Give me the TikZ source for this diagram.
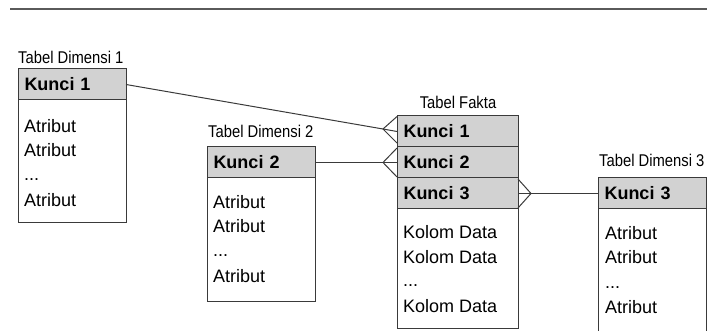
\documentclass[tikz,border=0pt]{standalone}
\usepackage{fontspec}
\setmainfont{Liberation Sans}
\newfontfamily\capfont[FakeStretch=0.87]{Liberation Sans}
\usetikzlibrary{calc}
\definecolor{linec}{HTML}{3A3A3A}
\definecolor{hdrc}{HTML}{D2D2D2}
\definecolor{rulec}{HTML}{5A5A5A}
\begin{document}
\begin{tikzpicture}[x=1pt,y=-1pt,
  hdr/.style={draw=linec, fill=hdrc, line width=1pt, minimum height=31pt,
    inner xsep=6.5pt, inner ysep=0pt, outer sep=0pt, anchor=north west, align=left,
    font=\fontsize{18}{20}\selectfont\bfseries},
  bodybox/.style={draw=linec, line width=1pt, inner sep=0pt, outer sep=0pt, anchor=north west},
  txt/.style={anchor=base west, inner sep=0pt, font=\fontsize{18}{20}\selectfont},
  caption/.style={inner sep=0pt, font=\capfont\fontsize{17}{19}\selectfont},
  link/.style={draw=linec, line width=1pt},
  prong/.style={draw=linec, line width=1pt}]
\clip (0,0) rectangle (707,331);
\useasboundingbox (0,0) rectangle (707,331);

% rule across the top
\coordinate (ruleL) at (10,9);
\coordinate (ruleR) at (707,9);
\draw[rulec, line width=1.8pt] (ruleL) -- (ruleR);

% ---------- Tabel Dimensi 1 ----------
\node[caption, anchor=west] (d1cap) at (18,57) {Tabel Dimensi 1};
\node[hdr, text width=95pt] (d1k) at (18,69) {Kunci 1};
\node[bodybox, minimum width=108pt, minimum height=123pt] (d1b) at (d1k.south west) {};
\node[txt] (d1a) at (24,132.5) {Atribut};
\node[txt] (d1b2) at (24,157) {Atribut};
\node[txt] (d1c) at (24,181) {...};
\node[txt] (d1d) at (24,206.5) {Atribut};

% ---------- Tabel Dimensi 2 ----------
\node[caption, anchor=west] (d2cap) at (208,131) {Tabel Dimensi 2};
\node[hdr, text width=95pt] (d2k) at (207,147) {Kunci 2};
\node[bodybox, minimum width=108pt, minimum height=123pt] (d2b) at (d2k.south west) {};
\node[txt] (d2a) at (213,208.5) {Atribut};
\node[txt] (d2b2) at (213,233) {Atribut};
\node[txt] (d2c) at (213,257) {...};
\node[txt] (d2d) at (213,282) {Atribut};

% ---------- Tabel Fakta ----------
\node[caption] (fcap) at (458,102) {Tabel Fakta};
\node[hdr, text width=108pt] (fk1) at (397,116) {Kunci 1};
\node[hdr, text width=108pt] (fk2) at (fk1.south west) {Kunci 2};
\node[hdr, text width=108pt] (fk3) at (fk2.south west) {Kunci 3};
\node[bodybox, minimum width=121pt, minimum height=119pt] (fb) at (fk3.south west) {};
\node[txt] (fa) at (403,238.5) {Kolom Data};
\node[txt] (fb2) at (403,263) {Kolom Data};
\node[txt] (fc) at (403,287) {...};
\node[txt] (fd) at (403,312) {Kolom Data};

% ---------- Tabel Dimensi 3 ----------
\node[caption, anchor=west] (d3cap) at (599,160) {Tabel Dimensi 3};
\node[hdr, text width=95pt] (d3k) at (598,178) {Kunci 3};
\node[bodybox, minimum width=108pt, minimum height=140pt] (d3b) at (d3k.south west) {};
\node[txt] (d3a) at (605,239.5) {Atribut};
\node[txt] (d3b2) at (605,263.5) {Atribut};
\node[txt] (d3c) at (605,288) {...};
\node[txt] (d3d) at (605,313) {Atribut};

% ---------- relationships with crow's feet ----------
\coordinate (h1) at ($(fk1.west)+(-14,-2.5)$);
\path[link] (d1k.east) -- (h1) -- (fk1.west);
\path[prong] ($(fk1.north west)+(0,0.5)$) -- (h1) -- ($(fk1.south west)+(0,-4)$);

\coordinate (h2) at ($(fk2.west)+(-14,0)$);
\path[link] (d2k.east) -- (fk2.west);
\path[prong] ($(fk2.north west)+(0,1)$) -- (h2) -- ($(fk2.south west)+(0,-1)$);

\coordinate (h3) at ($(fk3.east)+(13,0)$);
\path[link] (fk3.east) -- (d3k.west);
\path[prong] ($(fk3.north east)+(0,1)$) -- (h3) -- ($(fk3.south east)+(0,-1)$);
\end{tikzpicture}
\end{document}
